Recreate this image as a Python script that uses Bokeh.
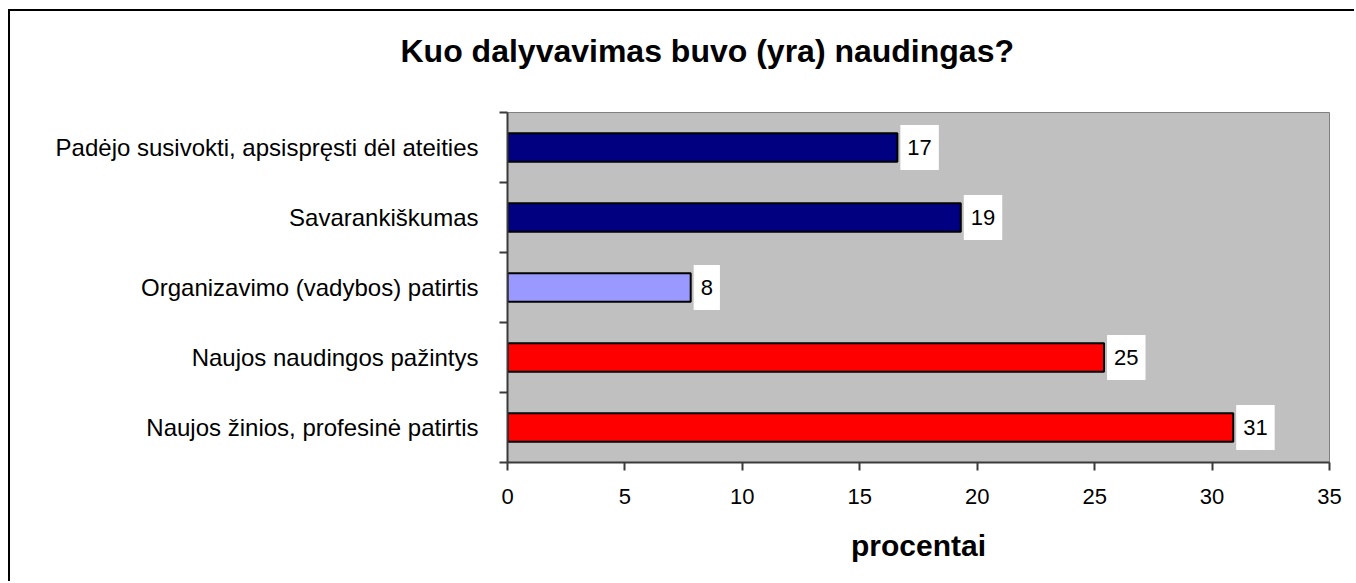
from bokeh.plotting import figure
from bokeh.models import Range1d, FixedTicker, ColumnDataSource, Title
from bokeh.embed import file_html
from bokeh.resources import INLINE
from bokeh.core.properties import value

# ---- data (bottom to top) ----
categories = [
    "Naujos žinios, profesinė patirtis",
    "Naujos naudingos pažintys",
    "Organizavimo (vadybos) patirtis",
    "Savarankiškumas",
    "Padėjo susivokti, apsispręsti dėl ateities",
]
values = [30.9, 25.4, 7.8, 19.3, 16.6]
value_labels = ["31", "25", "8", "19", "17"]
bar_colors = ["#FF0000", "#FF0000", "#9999FF", "#000080", "#000080"]
x_ticks = [0, 5, 10, 15, 20, 25, 30, 35]
title_text = "Kuo dalyvavimas buvo (yra) naudingas?"
x_title = "procentai"

FONT = "Liberation Sans"

pos = [i + 0.5 for i in range(len(categories))]
bounds = list(range(len(categories) + 1))

src = ColumnDataSource(dict(pos=pos, val=values, lab=value_labels, col=bar_colors))

p = figure(
    width=1346, height=572,
    x_range=Range1d(x_ticks[0], x_ticks[-1]),
    y_range=Range1d(0, len(categories)),
    output_backend="svg", toolbar_location=None,
    min_border_left=497, min_border_right=27,
    min_border_top=101, min_border_bottom=121,
    background_fill_color="#C0C0C0", border_fill_color="white",
    outline_line_color="#808080", outline_line_width=1,
)
p.styles = {"border-top": "2px solid #000000", "border-left": "2px solid #000000",
            "margin-top": "9px", "margin-left": "8px"}

p.xgrid.visible = False
p.ygrid.visible = False

p.hbar(y="pos", left=0, right="val", height=0.41, fill_color="col",
       line_color="black", line_width=2, source=src)

p.text(x="val", y="pos", text="lab", x_offset=3, text_align="left",
       text_baseline="middle", text_font=value(FONT), text_font_size="22px",
       text_color="black", background_fill_color="white",
       padding=dict(left=7, right=7, top=15, bottom=15), source=src)

# x axis
xa = p.xaxis[0]
xa.ticker = FixedTicker(ticks=x_ticks)
xa.major_tick_out = 8
xa.major_tick_in = 0
xa.minor_tick_out = 0
xa.minor_tick_in = 0
xa.axis_line_color = "#3a3a3a"
xa.axis_line_width = 2
xa.major_tick_line_color = "#3a3a3a"
xa.major_tick_line_width = 2
xa.major_label_text_font = FONT
xa.major_label_text_font_size = "22px"
xa.major_label_text_color = "black"
xa.major_label_standoff = 18
xa.axis_label = x_title
xa.axis_label_text_font = FONT
xa.axis_label_text_font_size = "30px"
xa.axis_label_text_font_style = "bold"
xa.axis_label_text_color = "black"
xa.axis_label_standoff = 22

# y axis
ya = p.yaxis[0]
ya.ticker = FixedTicker(ticks=pos, minor_ticks=bounds)
ya.major_label_overrides = {pp: c for pp, c in zip(pos, categories)}
ya.major_tick_out = 0
ya.major_tick_in = 0
ya.minor_tick_out = 8
ya.minor_tick_in = 0
ya.minor_tick_line_color = "#3a3a3a"
ya.minor_tick_line_width = 2
ya.axis_line_color = "#3a3a3a"
ya.axis_line_width = 2
ya.major_label_text_font = FONT
ya.major_label_text_font_size = "24px"
ya.major_label_text_color = "black"
ya.major_label_standoff = 21

# spacer between frame and title, then the title itself
p.add_layout(Title(text=" ", text_font_size="1px", standoff=39), "above")
p.add_layout(Title(text=title_text, align="left", offset=-107,
                   text_font=FONT, text_font_size="32px", text_font_style="bold",
                   text_color="black", standoff=4), "above")

open("out.html", "w").write(file_html(p, INLINE))
